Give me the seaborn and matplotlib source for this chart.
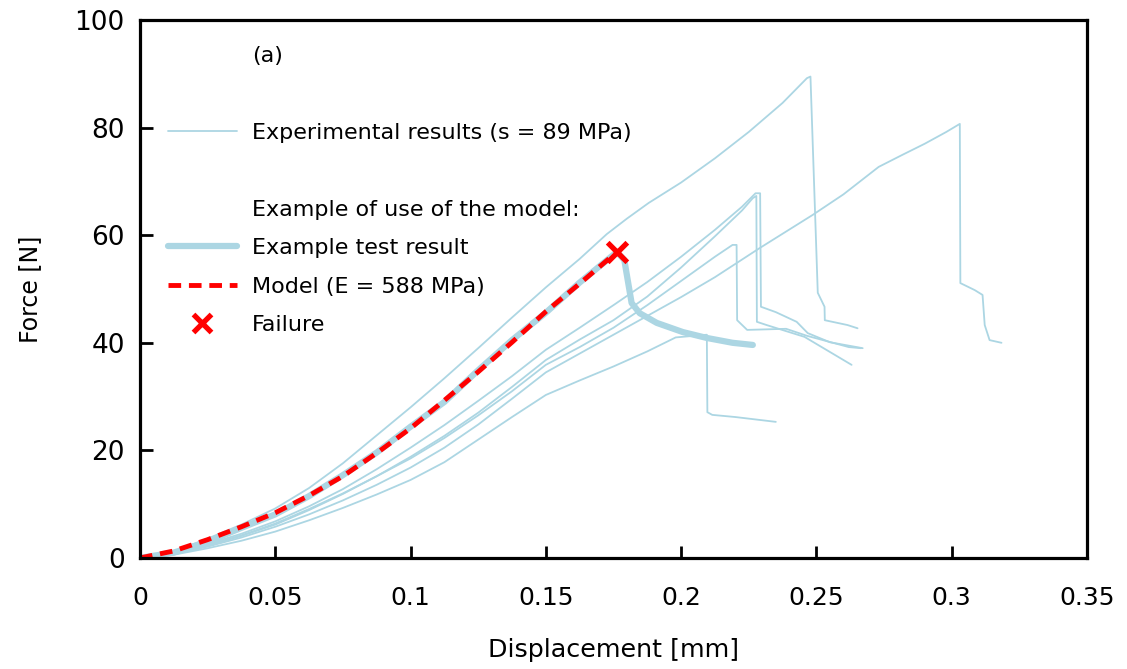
import numpy as np
import pandas as pd
import matplotlib
matplotlib.use('Agg')
import matplotlib.pyplot as plt
from matplotlib.lines import Line2D
import seaborn as sns

# experimental force-displacement curves
a_x = [0, .0125, .025, .0375, .05, .0625, .075, .0875, .1, .1125, .125, .1375, .15, .1625, .1725, .18, .188, .2, .2125, .225, .2375, .2465, .2478,
       .2505, .253, .2531, .2615, .2652]
a_f = [0, 1.2, 3.6, 6.2, 9.2, 13.0, 17.6, 22.8, 28.0, 33.4, 39.0, 44.7, 50.3, 55.6, 60.2, 63.1, 66.0, 69.8, 74.3, 79.2, 84.6, 89.2, 89.5,
       49.3, 46.7, 44.2, 43.3, 42.7]

b_x = [0, .0125, .025, .0375, .05, .0625, .075, .0875, .1, .1125, .125, .1375, .15, .1625, .175, .1875, .2, .2125, .229, .2487, .26, .273, .282, .29, .298, .303,
       .3032, .3085, .3114, .3122, .314, .3184]
b_f = [0, 0.7, 2.1, 3.8, 5.8, 8.1, 10.7, 13.6, 16.8, 20.5, 24.8, 29.6, 34.5, 38.0, 41.5, 45.0, 48.5, 52.2, 57.6, 63.8, 67.6, 72.7, 75.0, 77.0, 79.2, 80.7,
       51.1, 49.8, 48.9, 43.3, 40.5, 40.0]

c_x = [0, .0125, .025, .0375, .05, .0625, .075, .0875, .1, .1125, .125, .1375, .15, .1625, .175, .1875, .2, .2125, .2225, .2275, .2292,
       .2295, .235, .2427, .2468, .255, .2671]
c_f = [0, 0.9, 2.6, 4.5, 6.8, 9.6, 12.8, 16.5, 20.5, 24.7, 29.2, 33.8, 38.7, 42.8, 47.0, 51.3, 56.0, 61.0, 65.3, 67.8, 67.8,
       46.7, 45.7, 43.9, 41.8, 40.1, 39.0]

d_x = [0, .0125, .025, .0375, .05, .0625, .075, .0875, .1, .1125, .125, .1375, .15, .1625, .175, .1875, .2, .2125, .2225, .2265, .2278,
       .228, .2316, .2456, .263]
d_f = [0, 0.8, 2.3, 4.1, 6.2, 8.9, 11.9, 15.2, 18.8, 22.7, 27.0, 31.8, 36.8, 40.6, 44.2, 48.6, 54.0, 59.8, 64.6, 66.9, 67.3,
       43.9, 43.3, 41.1, 35.9]

e_x = [0, .0125, .025, .0375, .05, .0625, .075, .0875, .1, .1125, .125, .1375, .15, .1625, .175, .1875, .2, .2125, .219, .2205,
       .2207, .2244, .2388, .2465, .262, .2665]
e_f = [0, 0.8, 2.4, 4.2, 6.4, 9.1, 12.0, 15.2, 18.5, 22.3, 26.5, 31.0, 35.9, 39.2, 42.8, 47.0, 51.5, 56.0, 58.2, 58.2,
       44.2, 42.4, 42.6, 41.3, 39.2, 39.0]

f_x = [0, .0125, .025, .0375, .05, .0625, .075, .0875, .1, .1125, .125, .1375, .15, .1625, .175, .1875, .198, .2095,
       .2097, .2115, .22, .235]
f_f = [0, 0.6, 1.8, 3.2, 4.9, 7.0, 9.3, 11.8, 14.5, 17.8, 22.0, 26.2, 30.3, 33.0, 35.6, 38.4, 41.0, 41.5,
       27.1, 26.6, 26.2, 25.3]

# example test result (thick line)
test_x = [0, .0125, .025, .0375, .05, .0625, .075, .0875, .1, .1125, .125, .1375, .15, .1625, .1763,
          .179, .1817, .1847, .191, .2006, .2095, .219, .2265]
test_f = [0, 1.0, 3.0, 5.6, 8.1, 11.5, 15.4, 19.6, 24.4, 29.0, 34.9, 40.5, 45.6, 51.2, 56.9,
          55.4, 47.4, 45.5, 43.7, 42.0, 40.9, 40.0, 39.6]

# model curve (E = 588 MPa)
model_x = [0, .0125, .025, .0375, .05, .0625, .075, .0875, .1, .1125, .125, .1375, .15, .1625, .1763]
model_f = [0, 1.3, 3.4, 5.8, 8.4, 11.6, 15.2, 19.5, 24.1, 29.3, 34.6, 40.1, 45.8, 51.0, 56.9]

fail_x = [0.1763]
fail_f = [56.9]

x_ticks = [0, 0.05, 0.1, 0.15, 0.2, 0.25, 0.3, 0.35]
x_ticklabels = ['0', '0.05', '0.1', '0.15', '0.2', '0.25', '0.3', '0.35']
y_ticks = [0, 20, 40, 60, 80, 100]

exp_curves = {'A': (a_x, a_f), 'B': (b_x, b_f), 'C': (c_x, c_f), 'D': (d_x, d_f),
              'E': (e_x, e_f), 'F': (f_x, f_f)}
frames = []
for name, (xs, fs) in exp_curves.items():
    frames.append(pd.DataFrame({'disp': xs, 'force': fs, 'curve': name}))
exp_df = pd.concat(frames, ignore_index=True)

sns.set_style('ticks')
plt.rcParams['font.family'] = ['DejaVu Sans']
plt.rcParams['text.color'] = 'black'
plt.rcParams['axes.labelcolor'] = 'black'
plt.rcParams['xtick.color'] = 'black'
plt.rcParams['ytick.color'] = 'black'

blue = '#acd6e3'
red = '#ff0000'
dash = [2.6, 1.6]
fig = plt.figure(figsize=(11.27, 6.69), dpi=100)
ax = fig.add_axes([0.1242, 0.166, 0.8403, 0.804])

sns.lineplot(data=exp_df, x='disp', y='force', units='curve', estimator=None, sort=False,
             color=blue, lw=1.3, ax=ax)
sns.lineplot(x=test_x, y=test_f, sort=False, estimator=None, color=blue, lw=4.5, ax=ax)
sns.lineplot(x=model_x, y=model_f, sort=False, estimator=None, color=red, lw=3.5, ax=ax)
ax.lines[-1].set_dashes(dash)
sns.scatterplot(x=fail_x, y=fail_f, marker='x', color=red, s=200, linewidth=3.8, ax=ax, zorder=5)

ax.set_xlim(0, 0.35)
ax.set_ylim(0, 100)
ax.set_xticks(x_ticks)
ax.set_xticklabels(x_ticklabels)
ax.set_yticks(y_ticks)
ax.tick_params(direction='in', length=9, width=2, top=False, right=False)
ax.tick_params(axis='x', labelsize=18, pad=20)
ax.tick_params(axis='y', labelsize=19, pad=11)
for sp in ax.spines.values():
    sp.set_linewidth(2.3)
    sp.set_color('black')
ax.set_xlabel('Displacement [mm]', fontsize=18.3, labelpad=20)
ax.set_ylabel('Force [N]', fontsize=17, labelpad=23)

# legend, including the "(a)" tag and the heading line
blank = Line2D([], [], color='none')
handles = [blank, blank,
           Line2D([], [], color=blue, lw=1.3),
           blank, blank,
           Line2D([], [], color=blue, lw=4.5),
           Line2D([], [], color=red, lw=3.5, dashes=dash),
           Line2D([], [], color=red, lw=0, marker='x', ms=13, mew=3.8)]
labels = ['(a)', '', 'Experimental results (s = 89 MPa)', '',
          'Example of use of the model:', 'Example test result',
          'Model (E = 588 MPa)', 'Failure']
ax.legend(handles, labels, loc='upper left', bbox_to_anchor=(0.013, 0.981), frameon=False,
          fontsize=16, handlelength=3.1, handletextpad=0.68, labelspacing=0.83,
          borderaxespad=0.3)

fig.savefig('out.png', dpi=100)
